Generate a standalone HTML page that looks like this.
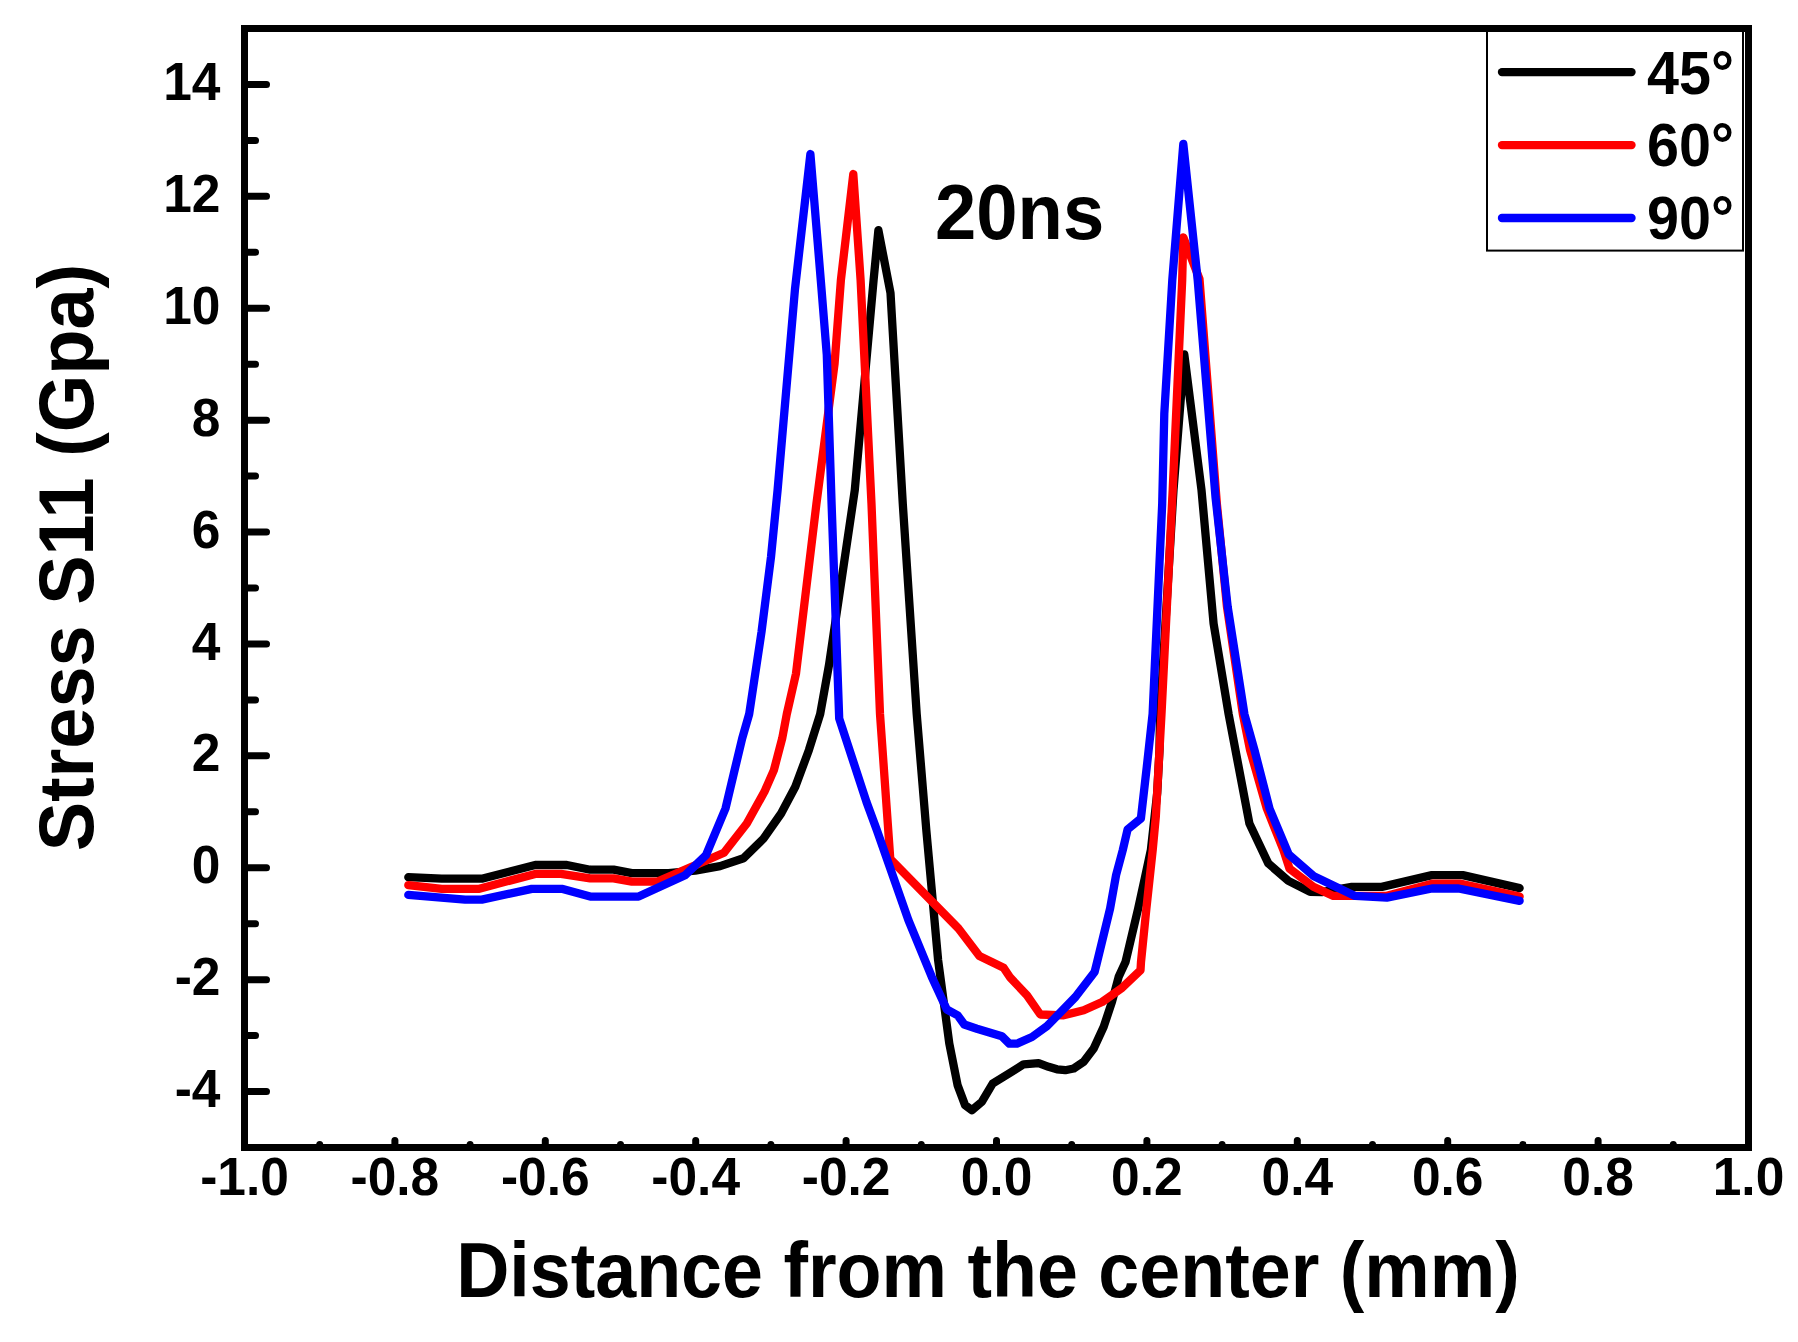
<!DOCTYPE html><html><head><meta charset="utf-8"><title>Stress S11 20ns</title>
<style>html,body{margin:0;padding:0;background:#fff;overflow:hidden}svg{display:block}text{font-family:"Liberation Sans",sans-serif;font-weight:bold;fill:#000}</style></head><body>
<svg width="1798" height="1342" viewBox="0 0 1798 1342">
<rect x="0" y="0" width="1798" height="1342" fill="#fff"/>
<polyline points="408.3,877.2 441.7,878.7 481.8,878.7 535.2,865.0 566.9,865.0 590.2,869.7 613.6,869.7 631.9,873.1 668.4,873.1 695.1,870.6 720.1,866.1 743.5,858.3 763.5,838.6 781.1,813.5 795.3,786.8 808.9,750.1 820.2,714.0 829.0,665.0 854.8,490.0 873.6,280.0 878.4,230.2 890.5,293.0 902.8,504.0 916.7,714.0 926.3,830.0 938.1,960.0 949.3,1043.5 957.6,1085.2 965.1,1105.2 971.8,1110.2 981.8,1101.9 992.7,1083.5 1010.2,1072.7 1023.6,1064.3 1038.6,1063.2 1048.6,1066.8 1057.0,1069.3 1065.3,1070.2 1073.7,1068.5 1083.7,1061.8 1093.7,1048.5 1103.7,1026.8 1112.0,1001.7 1118.7,976.7 1125.5,962.0 1138.2,908.4 1144.6,879.2 1150.9,850.0 1157.2,793.0 1159.5,750.0 1160.0,714.0 1173.5,490.0 1184.3,354.5 1201.5,490.0 1213.6,623.6 1228.6,714.0 1249.4,823.5 1268.3,863.4 1288.4,880.9 1310.1,891.8 1321.7,892.1 1351.8,886.9 1381.8,886.9 1431.9,875.1 1462.7,875.1 1519.6,888.1" fill="none" stroke="#000" stroke-width="8.3" stroke-linejoin="round" stroke-linecap="round"/>
<polyline points="408.3,885.1 441.7,888.9 478.4,888.9 535.2,873.9 561.0,873.9 590.2,878.4 613.6,878.4 631.9,881.7 657.5,881.6 724.0,852.7 746.8,823.5 764.4,791.8 773.9,770.1 782.2,738.4 786.8,714.0 796.0,673.6 816.4,504.0 834.6,363.5 840.9,280.0 853.3,174.0 860.6,280.0 871.5,504.0 880.0,714.0 890.3,859.0 958.5,928.5 979.4,956.0 1003.6,967.7 1010.3,977.7 1027.0,995.3 1040.3,1014.5 1063.7,1015.3 1083.7,1010.3 1102.1,1002.0 1122.1,987.8 1140.5,970.2 1141.0,962.0 1146.4,908.4 1152.7,850.0 1155.8,816.9 1161.5,714.0 1172.7,490.0 1182.2,280.0 1183.3,237.3 1199.5,279.0 1216.9,504.0 1227.0,607.0 1242.8,714.0 1250.1,750.1 1266.8,808.5 1283.5,850.3 1289.5,868.6 1313.4,886.7 1333.4,895.9 1386.0,895.9 1431.9,883.7 1461.1,883.7 1519.6,896.6" fill="none" stroke="#f00" stroke-width="8.3" stroke-linejoin="round" stroke-linecap="round"/>
<polyline points="408.3,894.9 465.1,899.6 481.8,899.6 531.8,888.9 562.7,888.9 590.2,896.6 638.6,896.6 685.1,875.3 705.9,855.3 725.5,808.5 733.8,773.5 742.2,738.4 749.2,714.0 761.5,632.0 771.0,557.0 777.6,490.0 795.0,289.0 810.4,154.0 821.5,289.0 826.8,355.0 831.6,504.0 839.2,718.5 866.5,802.0 876.8,830.0 908.4,920.2 931.8,976.9 946.8,1009.5 957.7,1015.3 964.3,1024.5 976.9,1028.7 1001.9,1036.2 1009.4,1043.7 1016.9,1043.7 1032.0,1037.0 1047.0,1026.2 1075.4,997.0 1094.6,971.9 1097.1,962.0 1110.1,908.4 1116.1,875.0 1122.8,850.0 1127.6,829.4 1140.9,818.5 1146.8,766.8 1152.6,714.0 1162.2,504.0 1164.3,413.6 1172.3,280.0 1183.3,144.0 1197.7,280.0 1215.5,497.0 1227.7,606.9 1244.4,714.0 1254.5,750.1 1269.5,808.5 1288.7,854.4 1313.4,875.9 1355.1,895.9 1386.8,897.6 1431.9,888.5 1458.6,888.5 1519.6,900.9" fill="none" stroke="#00f" stroke-width="8.3" stroke-linejoin="round" stroke-linecap="round"/>
<g stroke="#000" stroke-width="7" stroke-linecap="round" fill="none">
<line x1="244.5" y1="1091.55" x2="266.5" y2="1091.55"/>
<line x1="244.5" y1="1035.60" x2="255.5" y2="1035.60"/>
<line x1="244.5" y1="979.65" x2="266.5" y2="979.65"/>
<line x1="244.5" y1="923.70" x2="255.5" y2="923.70"/>
<line x1="244.5" y1="867.75" x2="266.5" y2="867.75"/>
<line x1="244.5" y1="811.80" x2="255.5" y2="811.80"/>
<line x1="244.5" y1="755.85" x2="266.5" y2="755.85"/>
<line x1="244.5" y1="699.90" x2="255.5" y2="699.90"/>
<line x1="244.5" y1="643.95" x2="266.5" y2="643.95"/>
<line x1="244.5" y1="588.00" x2="255.5" y2="588.00"/>
<line x1="244.5" y1="532.05" x2="266.5" y2="532.05"/>
<line x1="244.5" y1="476.10" x2="255.5" y2="476.10"/>
<line x1="244.5" y1="420.15" x2="266.5" y2="420.15"/>
<line x1="244.5" y1="364.20" x2="255.5" y2="364.20"/>
<line x1="244.5" y1="308.25" x2="266.5" y2="308.25"/>
<line x1="244.5" y1="252.30" x2="255.5" y2="252.30"/>
<line x1="244.5" y1="196.35" x2="266.5" y2="196.35"/>
<line x1="244.5" y1="140.40" x2="255.5" y2="140.40"/>
<line x1="244.5" y1="84.45" x2="266.5" y2="84.45"/>
<line x1="319.70" y1="1147.5" x2="319.70" y2="1144.5"/>
<line x1="394.90" y1="1147.5" x2="394.90" y2="1140.5"/>
<line x1="470.10" y1="1147.5" x2="470.10" y2="1144.5"/>
<line x1="545.30" y1="1147.5" x2="545.30" y2="1140.5"/>
<line x1="620.50" y1="1147.5" x2="620.50" y2="1144.5"/>
<line x1="695.70" y1="1147.5" x2="695.70" y2="1140.5"/>
<line x1="770.90" y1="1147.5" x2="770.90" y2="1144.5"/>
<line x1="846.10" y1="1147.5" x2="846.10" y2="1140.5"/>
<line x1="921.30" y1="1147.5" x2="921.30" y2="1144.5"/>
<line x1="996.50" y1="1147.5" x2="996.50" y2="1140.5"/>
<line x1="1071.70" y1="1147.5" x2="1071.70" y2="1144.5"/>
<line x1="1146.90" y1="1147.5" x2="1146.90" y2="1140.5"/>
<line x1="1222.10" y1="1147.5" x2="1222.10" y2="1144.5"/>
<line x1="1297.30" y1="1147.5" x2="1297.30" y2="1140.5"/>
<line x1="1372.50" y1="1147.5" x2="1372.50" y2="1144.5"/>
<line x1="1447.70" y1="1147.5" x2="1447.70" y2="1140.5"/>
<line x1="1522.90" y1="1147.5" x2="1522.90" y2="1144.5"/>
<line x1="1598.10" y1="1147.5" x2="1598.10" y2="1140.5"/>
<line x1="1673.30" y1="1147.5" x2="1673.30" y2="1144.5"/>
</g>
<rect x="1487" y="30" width="256" height="220.6" fill="#fff" stroke="#000" stroke-width="2"/>
<line x1="1502" y1="72.1" x2="1631.5" y2="72.1" stroke="#000" stroke-width="8.4" stroke-linecap="round"/>
<line x1="1502" y1="145.1" x2="1631.5" y2="145.1" stroke="#f00" stroke-width="8.4" stroke-linecap="round"/>
<line x1="1502" y1="218.0" x2="1631.5" y2="218.0" stroke="#00f" stroke-width="8.4" stroke-linecap="round"/>
<text transform="translate(1647,93.5) scale(0.98,1.03)" font-size="58.7">45°</text>
<text transform="translate(1647,166.3) scale(0.98,1.03)" font-size="58.7">60°</text>
<text transform="translate(1647,239.2) scale(0.98,1.03)" font-size="58.7">90°</text>
<rect x="244.5" y="28.5" width="1504.0" height="1119.0" fill="none" stroke="#000" stroke-width="7"/>
<text transform="translate(244.5,1195.2) scale(1,1.035)" font-size="51.5" text-anchor="middle">-1.0</text>
<text transform="translate(394.9,1195.2) scale(1,1.035)" font-size="51.5" text-anchor="middle">-0.8</text>
<text transform="translate(545.3,1195.2) scale(1,1.035)" font-size="51.5" text-anchor="middle">-0.6</text>
<text transform="translate(695.7,1195.2) scale(1,1.035)" font-size="51.5" text-anchor="middle">-0.4</text>
<text transform="translate(846.1,1195.2) scale(1,1.035)" font-size="51.5" text-anchor="middle">-0.2</text>
<text transform="translate(996.5,1195.2) scale(1,1.035)" font-size="51.5" text-anchor="middle">0.0</text>
<text transform="translate(1146.9,1195.2) scale(1,1.035)" font-size="51.5" text-anchor="middle">0.2</text>
<text transform="translate(1297.3,1195.2) scale(1,1.035)" font-size="51.5" text-anchor="middle">0.4</text>
<text transform="translate(1447.7,1195.2) scale(1,1.035)" font-size="51.5" text-anchor="middle">0.6</text>
<text transform="translate(1598.1,1195.2) scale(1,1.035)" font-size="51.5" text-anchor="middle">0.8</text>
<text transform="translate(1748.5,1195.2) scale(1,1.035)" font-size="51.5" text-anchor="middle">1.0</text>
<text transform="translate(220.5,1107.0) scale(1,1.035)" font-size="51.5" text-anchor="end">-4</text>
<text transform="translate(220.5,995.1) scale(1,1.035)" font-size="51.5" text-anchor="end">-2</text>
<text transform="translate(220.5,883.2) scale(1,1.035)" font-size="51.5" text-anchor="end">0</text>
<text transform="translate(220.5,771.4) scale(1,1.035)" font-size="51.5" text-anchor="end">2</text>
<text transform="translate(220.5,659.5) scale(1,1.035)" font-size="51.5" text-anchor="end">4</text>
<text transform="translate(220.5,547.5) scale(1,1.035)" font-size="51.5" text-anchor="end">6</text>
<text transform="translate(220.5,435.6) scale(1,1.035)" font-size="51.5" text-anchor="end">8</text>
<text transform="translate(220.5,323.8) scale(1,1.035)" font-size="51.5" text-anchor="end">10</text>
<text transform="translate(220.5,211.8) scale(1,1.035)" font-size="51.5" text-anchor="end">12</text>
<text transform="translate(220.5,100.0) scale(1,1.035)" font-size="51.5" text-anchor="end">14</text>
<text transform="translate(987.9,1297) scale(0.9817,1.04)" font-size="75" text-anchor="middle">Distance from the center (mm)</text>
<text transform="translate(92.5,557.6) rotate(-90) scale(0.9856,1.035)" font-size="75" text-anchor="middle">Stress S11 (Gpa)</text>
<text transform="translate(1019.6,238.7) scale(0.99,1.04)" font-size="75" text-anchor="middle">20ns</text>
</svg></body></html>
